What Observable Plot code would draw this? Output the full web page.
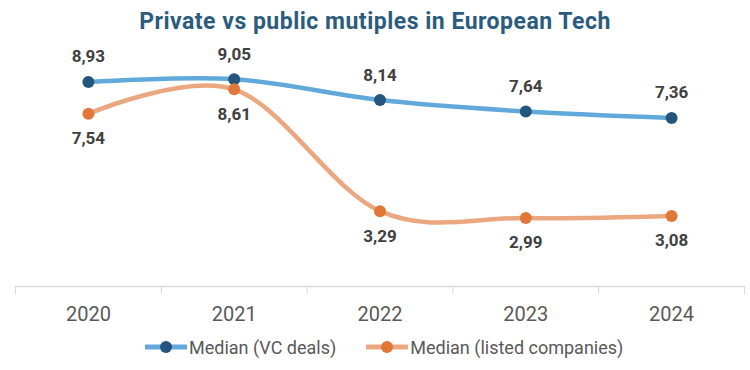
<!DOCTYPE html>
<html><head><meta charset="utf-8">
<script src="https://cdn.jsdelivr.net/npm/d3@7"></script>
<script src="https://cdn.jsdelivr.net/npm/@observablehq/plot@0.6"></script>
<style>
body{margin:0;background:#fff;font-family:Roboto,sans-serif;width:750px;height:370px;overflow:hidden}
#title{height:44px;line-height:44px;text-align:center;font-weight:700;font-size:23px;letter-spacing:0.5px;color:#2b5c7e}
#legend{height:26px;display:flex;align-items:center;padding-left:145px;font-size:18px;color:#595959}
#legend .item{display:flex;align-items:center;margin-right:30px}
#legend svg{margin-right:2px}
</style></head><body>
<div id="title">Private vs public mutiples in European Tech</div>
<div id="chart"></div>
<div id="legend"></div>
<script>
const years = [2020, 2021, 2022, 2023, 2024];
const vcDeals = [8.93, 9.05, 8.14, 7.64, 7.36];
const listed = [7.54, 8.61, 3.29, 2.99, 3.08];
const seriesNames = ["Median (VC deals)", "Median (listed companies)"];
const lineColors = ["#62a9db", "#eba77f"];
const dotColors = ["#24557c", "#e1783a"];

const rowsVC = years.map((y, i) => ({year: y, value: vcDeals[i]}));
const rowsL = years.map((y, i) => ({year: y, value: listed[i]}));
const fmt = v => d3.format(".2f")(v).replace(".", ",");
const bounds = d3.range(years.length + 1).map(i => years[0] - 0.5 + i);

const chart = Plot.plot({
  width: 750, height: 290,
  marginLeft: 15, marginRight: 6, marginTop: 13, marginBottom: 48,
  x: {domain: [years[0] - 0.5, years[years.length - 1] + 0.5]},
  y: {domain: [0, 10], axis: null},
  style: {fontFamily: "Roboto, sans-serif", background: "#fff"},
  marks: [
    Plot.ruleY([0], {stroke: "#d9d9d9", strokeWidth: 1.3}),
    Plot.axisX({ticks: bounds, tickSize: 8, tickFormat: () => "", stroke: "#d9d9d9", label: null}),
    Plot.axisX({ticks: years, tickSize: 0, tickPadding: 20, tickFormat: d => String(d), fontSize: 20, color: "#595959", label: null}),
    Plot.line(rowsVC, {x: "year", y: "value", curve: "cardinal", stroke: lineColors[0], strokeWidth: 4.5}),
    Plot.line(rowsL, {x: "year", y: "value", curve: "cardinal", stroke: lineColors[1], strokeWidth: 4.5}),
    Plot.dot(rowsVC, {x: "year", y: "value", r: 6, fill: dotColors[0]}),
    Plot.dot(rowsL, {x: "year", y: "value", r: 6, fill: dotColors[1]}),
    Plot.text(rowsVC, {x: "year", y: "value", text: d => fmt(d.value), dy: -25, fontSize: 17, fontWeight: "bold", fill: "#404040"}),
    Plot.text(rowsL, {x: "year", y: "value", text: d => fmt(d.value), dy: 25, fontSize: 17, fontWeight: "bold", fill: "#404040"})
  ]
});
document.getElementById("chart").appendChild(chart);

const legend = document.getElementById("legend");
seriesNames.forEach((name, i) => {
  const item = document.createElement("div");
  item.className = "item";
  item.innerHTML = `<svg width="42" height="14"><line x1="1" y1="7" x2="41" y2="7" stroke="${lineColors[i]}" stroke-width="5" stroke-linecap="round"/><circle cx="21" cy="7" r="6" fill="${dotColors[i]}"/></svg><span>${name}</span>`;
  legend.appendChild(item);
});
</script>
</body></html>
